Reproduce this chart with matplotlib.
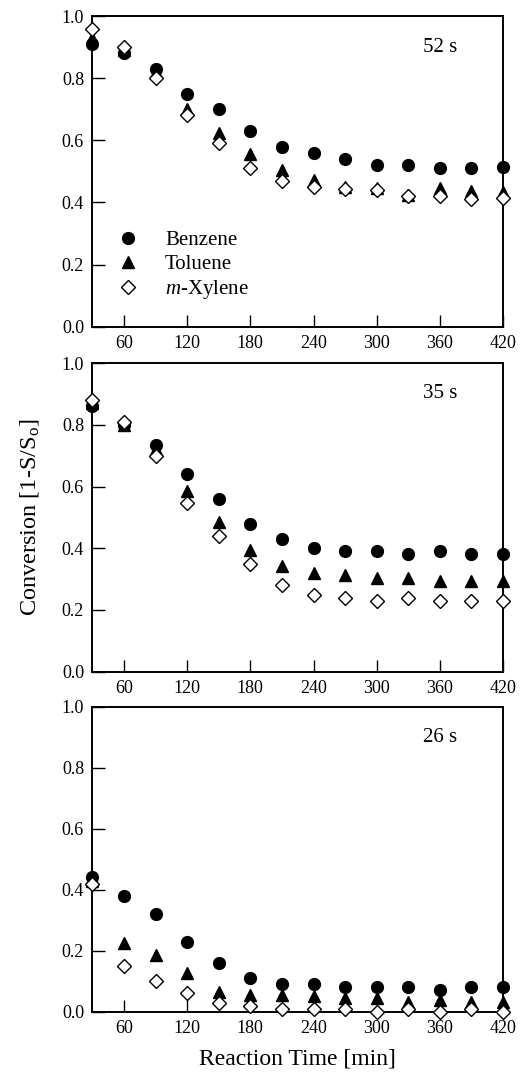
import matplotlib
matplotlib.use('Agg')
import matplotlib.pyplot as plt

plt.rcParams['font.family'] = ['Liberation Serif', 'DejaVu Serif']
plt.rcParams['mathtext.fontset'] = 'custom'
plt.rcParams['mathtext.rm'] = 'Liberation Serif'
plt.rcParams['mathtext.it'] = 'Liberation Serif:italic'

# ── Data ──
time_min = [30, 60, 90, 120, 150, 180, 210, 240, 270, 300, 330, 360, 390, 420]

benzene_52 = [0.91, 0.88, 0.83, 0.75, 0.70, 0.63, 0.58, 0.56, 0.54, 0.52, 0.52, 0.51, 0.51, 0.515]
toluene_52 = [0.93, 0.89, 0.82, 0.70, 0.625, 0.555, 0.505, 0.473, 0.45, 0.445, 0.425, 0.448, 0.437, 0.435]
xylene_52  = [0.957, 0.90, 0.80, 0.68, 0.59, 0.51, 0.47, 0.45, 0.443, 0.44, 0.42, 0.42, 0.41, 0.414]

benzene_35 = [0.86, 0.80, 0.733, 0.642, 0.561, 0.48, 0.43, 0.40, 0.39, 0.39, 0.38, 0.39, 0.38, 0.38]
toluene_35 = [0.87, 0.80, 0.72, 0.586, 0.485, 0.394, 0.342, 0.32, 0.313, 0.305, 0.304, 0.295, 0.295, 0.295]
xylene_35  = [0.88, 0.81, 0.70, 0.547, 0.44, 0.35, 0.28, 0.248, 0.24, 0.23, 0.24, 0.23, 0.23, 0.23]

benzene_26 = [0.443, 0.38, 0.322, 0.23, 0.16, 0.11, 0.09, 0.09, 0.08, 0.08, 0.08, 0.07, 0.08, 0.08]
toluene_26 = [0.43, 0.224, 0.186, 0.126, 0.066, 0.055, 0.055, 0.05, 0.044, 0.044, 0.033, 0.04, 0.033, 0.033]
xylene_26  = [0.42, 0.15, 0.10, 0.06, 0.03, 0.02, 0.008, 0.008, 0.01, 0.0, 0.008, 0.0, 0.008, 0.0]

panel_labels = ['52 s', '35 s', '26 s']
panels = [
    (benzene_52, toluene_52, xylene_52),
    (benzene_35, toluene_35, xylene_35),
    (benzene_26, toluene_26, xylene_26),
]
series_names = ['Benzene', 'Toluene', r'$\it{m}$-Xylene']
x_ticks = [60, 120, 180, 240, 300, 360, 420]
y_ticks = [0.0, 0.2, 0.4, 0.6, 0.8, 1.0]

# ── Layout ──
fig = plt.figure(figsize=(5.26, 10.77), dpi=100)
fig.patch.set_facecolor('white')

ax_rects = [
    [0.1757, 0.6967, 0.7806, 0.2884],
    [0.1757, 0.3763, 0.7806, 0.2866],
    [0.1757, 0.0606, 0.7806, 0.2832],
]

for i, (rect, (benz, tol, xyl), lab) in enumerate(zip(ax_rects, panels, panel_labels)):
    ax = fig.add_axes(rect)
    ax.plot(time_min, benz, 'o', ms=8.5, color='black', clip_on=False, zorder=3,
            label=series_names[0])
    ax.plot(time_min, tol, '^', ms=8, color='black', clip_on=False, zorder=4,
            label=series_names[1])
    ax.plot(time_min, xyl, 'D', ms=6.8, mfc='white', mec='black', mew=1.0,
            clip_on=False, zorder=5, label=series_names[2])

    ax.set_xlim(30, 420)
    ax.set_ylim(0, 1.0)
    ax.set_xticks(x_ticks)
    ax.set_yticks(y_ticks)
    ax.set_yticklabels(['{:.1f}'.format(v) for v in y_ticks])
    ax.tick_params(direction='in', length=9, width=1.0, labelsize=13,
                   top=False, right=False, pad=6)
    for sp in ax.spines.values():
        sp.set_linewidth(1.4)

    ax.text(360, 0.9, lab, ha='center', va='center', fontsize=15)

    if i == 0:
        ax.legend(loc='lower left', bbox_to_anchor=(0.035, 0.055), frameon=False,
                  fontsize=15, handletextpad=1.2, labelspacing=0.2,
                  borderaxespad=0, handlelength=1.2)
    if i == 1:
        ax.set_ylabel(r'Conversion [1-S/S$_\mathrm{o}$]', fontsize=17.5, labelpad=15)
    if i == 2:
        ax.set_xlabel('Reaction Time [min]', fontsize=17, labelpad=8)

fig.savefig('out.png', dpi=100, facecolor='white')
plt.close(fig)
